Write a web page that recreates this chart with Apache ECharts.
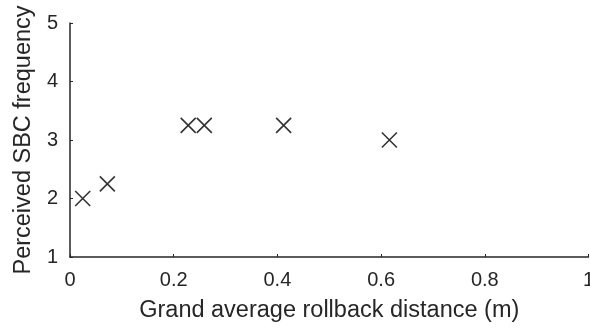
<!DOCTYPE html>
<html>
<head>
<meta charset="utf-8">
<script src="https://cdn.jsdelivr.net/npm/echarts@6/dist/echarts.min.js"></script>
<style>
  html, body { margin: 0; padding: 0; background: #fff; }
  #chart { width: 590px; height: 329px; }
</style>
</head>
<body>
<div id="chart"></div>
<script>
// Rollback distance (m) vs perceived SBC frequency
const rollbackDistance = [0.0245, 0.072, 0.228, 0.259, 0.412, 0.616];
const sbcFrequency = [2.0, 2.25, 3.25, 3.25, 3.25, 3.0];

const xTicks = [0, 0.2, 0.4, 0.6, 0.8, 1];
const yTicks = [1, 2, 3, 4, 5];

const ink = '#262626';
const font = 'Liberation Sans, Arial, sans-serif';

const chart = echarts.init(document.getElementById('chart'), null, { renderer: 'canvas' });

chart.setOption({
  animation: false,
  backgroundColor: '#fff',
  grid: {
    left: 70, right: 1.5, top: 23, bottom: 72,
    containLabel: false,
    outerBoundsMode: 'none'
  },
  xAxis: {
    type: 'value',
    min: xTicks[0],
    max: xTicks[xTicks.length - 1],
    interval: 0.2,
    name: 'Grand average rollback distance (m)',
    nameLocation: 'middle',
    nameGap: 42,
    nameTextStyle: { color: ink, fontSize: 23.5, fontFamily: font },
    axisLine: { show: true, lineStyle: { color: ink, width: 1.5 } },
    axisTick: { show: true, inside: true, length: 3, lineStyle: { color: ink } },
    axisLabel: {
      color: ink, fontSize: 20, fontFamily: font, margin: 13,
      formatter: v => String(parseFloat(v.toFixed(1)))
    },
    splitLine: { show: false }
  },
  yAxis: {
    type: 'value',
    min: yTicks[0],
    max: yTicks[yTicks.length - 1],
    interval: 1,
    name: 'Perceived SBC frequency',
    nameLocation: 'middle',
    nameGap: 34,
    nameTextStyle: { color: ink, fontSize: 23.5, fontFamily: font },
    axisLine: { show: true, lineStyle: { color: ink, width: 1.5 } },
    axisTick: { show: true, inside: true, length: 3, lineStyle: { color: ink } },
    axisLabel: { color: ink, fontSize: 20, fontFamily: font, margin: 12 },
    splitLine: { show: false }
  },
  series: [{
    type: 'scatter',
    data: rollbackDistance.map((x, i) => [x, sbcFrequency[i]]),
    symbol: 'path://M0,0L10,10M10,0L0,10',
    symbolSize: 15,
    itemStyle: { color: 'none', borderColor: '#000', borderWidth: 1.6 },
    emphasis: { disabled: true }
  }]
});
</script>
</body>
</html>
